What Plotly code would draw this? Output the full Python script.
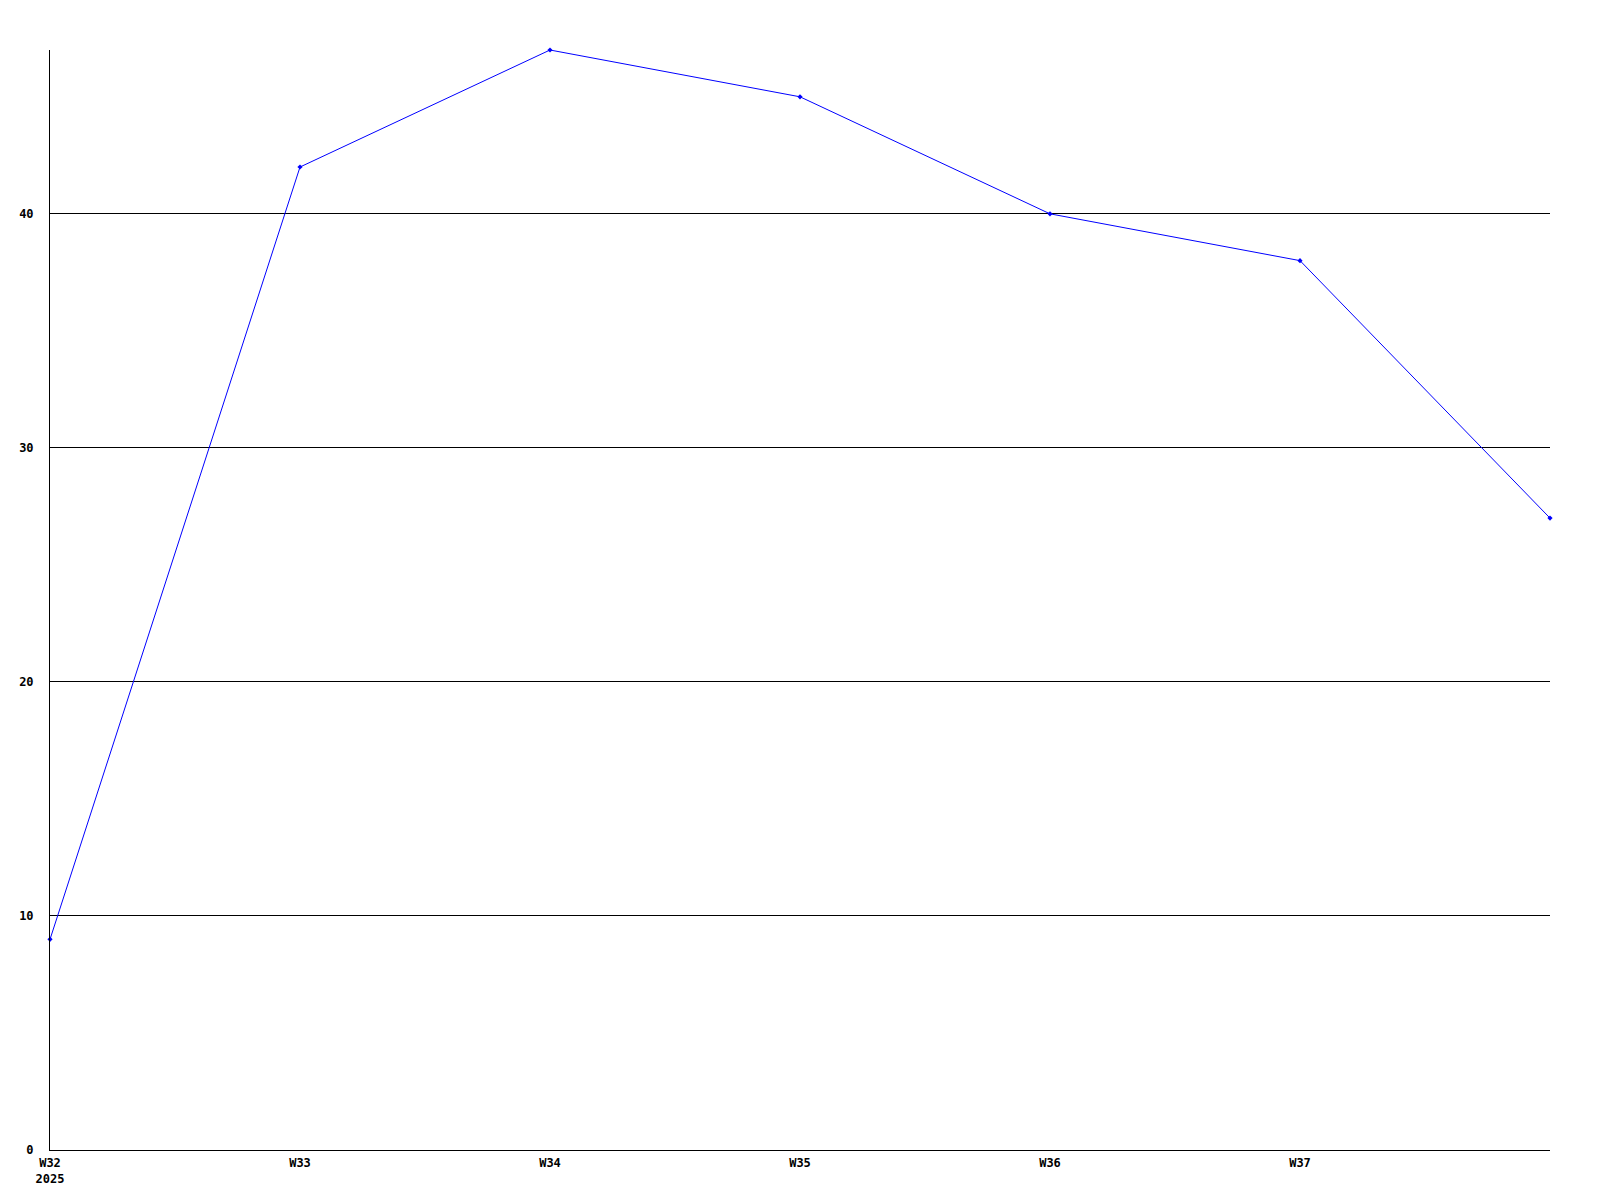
import plotly.graph_objects as go

weeks = [0, 1, 2, 3, 4, 5, 6]
values = [9, 42, 47, 45, 40, 38, 27]
tick_positions = [0, 1, 2, 3, 4, 5]
tick_labels = ["W32<br>2025", "W33", "W34", "W35", "W36", "W37"]
y_ticks = [0, 10, 20, 30, 40]

fig = go.Figure()
fig.add_trace(go.Scatter(
    x=weeks, y=values, mode="lines+markers",
    line=dict(color="#0000ff", width=1),
    marker=dict(color="#0000ff", size=4, symbol="diamond"),
    cliponaxis=False,
))

font = dict(family="DejaVu Sans Mono", size=12, color="black", weight="bold")
fig.update_layout(
    width=1584, height=1184,
    margin=dict(l=42, r=42, t=42, b=42, autoexpand=False),
    paper_bgcolor="white", plot_bgcolor="white",
    showlegend=False,
    font=font,
)
fig.update_xaxes(
    range=[0, 6], tickvals=tick_positions, ticktext=tick_labels,
    showgrid=False, zeroline=False, showline=True, linecolor="black", linewidth=1,
    ticks="", tickfont=font, ticklabelstandoff=2,
)
fig.update_yaxes(
    range=[0, 47], tickvals=y_ticks,
    showgrid=True, gridcolor="black", gridwidth=1,
    zeroline=False, showline=True, linecolor="black", linewidth=1,
    ticks="", tickfont=font, ticklabelstandoff=13,
)
fig.write_html("out.html")
